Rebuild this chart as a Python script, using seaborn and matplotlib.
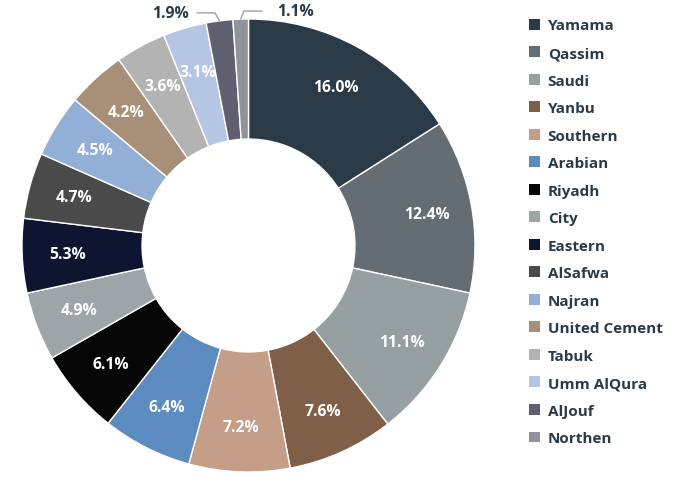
import numpy as np
import matplotlib
matplotlib.use("Agg")
import matplotlib.pyplot as plt
import seaborn as sns
from matplotlib.patches import Patch

categories = ["Yamama", "Qassim", "Saudi", "Yanbu", "Southern", "Arabian", "Riyadh", "City",
              "Eastern", "AlSafwa", "Najran", "United Cement", "Tabuk", "Umm AlQura", "AlJouf", "Northen"]
values = [16.0, 12.4, 11.1, 7.6, 7.2, 6.4, 6.1, 4.9, 5.3, 4.7, 4.5, 4.2, 3.6, 3.1, 1.9, 1.1]
colors = ["#2b3a47", "#636d73", "#97a0a1", "#7f5f47", "#c49e86", "#5b8bbf", "#050505", "#9ea5a9",
          "#0d1530", "#4a4a4a", "#92afd6", "#a89078", "#b3b3b3", "#b4c6e3", "#5f5f70", "#909399"]
# leader-line layout for the two small slices: (side, elbow x, elbow y, line end x, text x)
outside = {"AlJouf": ("left", -0.148, 1.027, -0.227, -0.265),
           "Northen": ("right", -0.02, 1.035, 0.06, 0.125)}

sns.set_theme(style="white")
plt.rcParams['font.family'] = ['Open Sans', 'DejaVu Sans']

W, H = 682, 489
fig = plt.figure(figsize=(W / 100, H / 100), dpi=100)
cx, cy, R = 248.5, 246.5, 226.5
ax = fig.add_axes([(cx - R) / W, (H - cy - R) / H, 2 * R / W, 2 * R / H])

wedges, _ = ax.pie(values, colors=colors, startangle=90, counterclock=False, radius=1.0,
                   wedgeprops=dict(width=0.53, edgecolor="white", linewidth=1.0))
ax.set_xlim(-1, 1)
ax.set_ylim(-1, 1)
ax.set_aspect("equal")
ax.axis("off")

text_dark = "#2b3a47"
for w, name, v in zip(wedges, categories, values):
    ang = np.deg2rad((w.theta1 + w.theta2) / 2)
    lab = f"{v:.1f}%"
    if name in outside:
        side, ex, ey, lx, tx = outside[name]
        x0, y0 = np.cos(ang), np.sin(ang)
        ax.plot([x0, ex, lx], [y0, ey, ey], color="#a0a0a0", lw=1.0, clip_on=False)
        ax.text(tx, ey, lab, ha="right" if side == "left" else "left", va="center",
                fontsize=11.3, fontweight="bold", color=text_dark, clip_on=False)
    else:
        r = 0.80
        ax.text(r * np.cos(ang), r * np.sin(ang), lab, ha="center", va="center",
                fontsize=11.3, fontweight="bold", color="white")

handles = [Patch(facecolor=c, edgecolor="none") for c in colors]
leg = fig.legend(handles, categories, loc="upper left", bbox_to_anchor=(529 / W, 1 - 19.5 / H),
                 frameon=False, fontsize=11, labelspacing=0.885, handlelength=0.72,
                 handleheight=0.72, handletextpad=0.5, borderaxespad=0, borderpad=0)
for t in leg.get_texts():
    t.set_fontweight("bold")
    t.set_color(text_dark)

fig.savefig("out.png", dpi=100)
